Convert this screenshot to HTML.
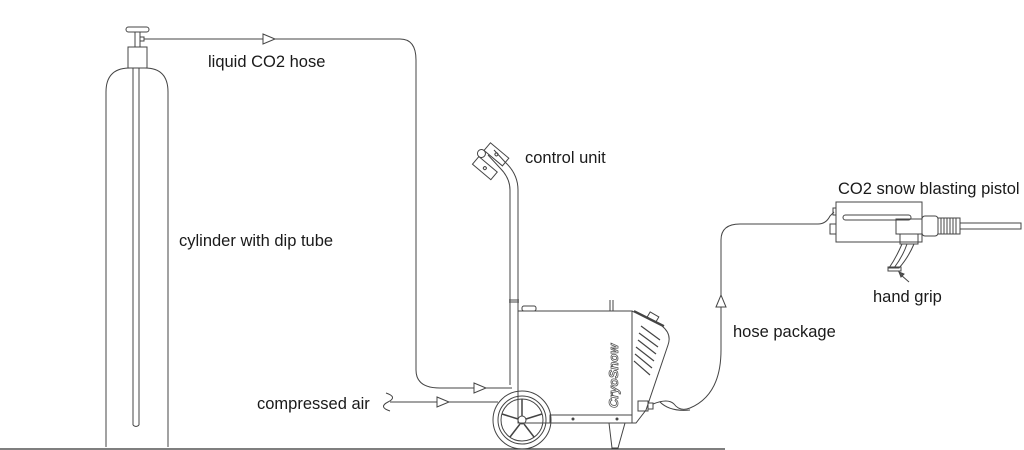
<!DOCTYPE html>
<html><head><meta charset="utf-8"><style>
html,body{margin:0;padding:0;background:#fff;width:1024px;height:450px;overflow:hidden}
svg text{font-family:"Liberation Sans",sans-serif;font-size:16.5px;fill:#1a1a1a}
</style></head><body>
<svg width="1024" height="450" viewBox="0 0 1024 450" xmlns="http://www.w3.org/2000/svg" fill="none" stroke="#444" stroke-width="1">
<line x1="0" y1="449" x2="725" y2="449" stroke="#333" stroke-width="1.2"/>
<path d="M106 447 L106 92 Q106 68 130 68 L145 68 Q168 68 168 92 L168 447"/>
<rect x="128" y="47" width="19" height="21"/>
<line x1="135" y1="32" x2="135" y2="47"/><line x1="140" y1="32" x2="140" y2="47"/>
<rect x="126" y="27" width="23" height="5" rx="2.5"/>
<rect x="140" y="37" width="4" height="4"/>
<line x1="133" y1="68" x2="133" y2="425"/><line x1="139" y1="68" x2="139" y2="425"/>
<path d="M133 425 Q136 428 139 425"/>
<path d="M144 39 L400 39 Q416 39 416 60 L416 370 Q416 388 440 388 L512 388"/>
<path d="M263 34 L275 39 L263 44 Z" fill="#fff"/>
<path d="M474 383 L486 388 L474 393 Z" fill="#fff"/>
<path d="M386 393 Q398 397 388 402 Q378 407 390 411"/>
<line x1="390" y1="402" x2="498" y2="402"/>
<path d="M437 397 L449 402 L437 407 Z" fill="#fff"/>
<path d="M510 385 L510 190 Q510 178 500 168 L488 155"/>
<path d="M518 385 L518 190 Q518 174 505 162 L494 150"/>
<line x1="509" y1="300" x2="519" y2="300"/><line x1="509" y1="302" x2="519" y2="302"/>
<g transform="rotate(40 490 162)">
<rect x="478" y="147" width="24" height="10"/>
<rect x="478" y="165" width="24" height="10"/>
<circle cx="490" cy="152" r="1.5"/><circle cx="490" cy="170" r="1.5"/>
<rect x="474" y="157" width="8" height="8" rx="4"/>
</g>
<rect x="518" y="311" width="114" height="112"/>
<rect x="522" y="306" width="14" height="5" rx="2"/>
<line x1="610" y1="300" x2="610" y2="311"/><line x1="613" y1="300" x2="613" y2="311"/>
<path d="M632 311 L662 326 Q672 334 668 345 L646 410 L636 423 L632 423"/>
<line x1="634" y1="311" x2="664" y2="326" stroke-width="2"/>
<rect x="648" y="314" width="10" height="6" transform="rotate(30 653 317)"/>
<g stroke-width="1.2">
<line x1="641" y1="326" x2="660" y2="340"/><line x1="639" y1="333" x2="658" y2="347"/>
<line x1="638" y1="340" x2="656" y2="354"/><line x1="636" y1="347" x2="654" y2="361"/>
<line x1="635" y1="354" x2="652" y2="368"/><line x1="634" y1="361" x2="650" y2="375"/>
</g>
<text x="0" y="0" transform="translate(618 408) rotate(-90)" style="font-size:13px;font-style:italic;font-weight:bold;fill:#fff;stroke:#555;stroke-width:0.8">CryoSnow</text>
<rect x="550" y="415" width="82" height="8"/>
<circle cx="573" cy="419" r="1" fill="#555"/><circle cx="617" cy="419" r="1" fill="#555"/>
<path d="M609 423 L612 448 L618 448 L625 423"/>
<rect x="638" y="401" width="10" height="10"/><rect x="648" y="403" width="5" height="6"/>
<circle cx="522" cy="420" r="29"/>
<circle cx="522" cy="420" r="24"/>
<circle cx="522" cy="420" r="21"/>
<circle cx="522" cy="420" r="4"/>
<g stroke-width="1.5">
<line x1="522" y1="416" x2="522" y2="399"/><line x1="526" y1="419" x2="542" y2="414"/>
<line x1="524" y1="424" x2="534" y2="437"/><line x1="520" y1="424" x2="510" y2="437"/>
<line x1="518" y1="419" x2="502" y2="414"/>
</g>
<path d="M653 404 Q668 398 674 404 Q680 412 690 408 Q721 395 721 350 L721 240 Q721 224 740 224 L818 224 Q826 224 830 216 L834 212"/>
<path d="M660 402 Q670 412 690 410"/>
<path d="M716 307 L721 295 L726 307 Z" fill="#fff"/>
<rect x="836" y="202" width="86" height="40"/>
<rect x="833" y="208" width="3" height="7"/><rect x="830" y="224" width="6" height="10"/>
<rect x="843" y="215" width="68" height="5" rx="2.5"/>
<rect x="896" y="219" width="26" height="15"/>
<rect x="900" y="234" width="18" height="10"/>
<rect x="922" y="216" width="16" height="20" rx="3"/>
<g><line x1="941" y1="218" x2="941" y2="234"/><line x1="944" y1="218" x2="944" y2="234"/><line x1="947" y1="218" x2="947" y2="234"/><line x1="950" y1="218" x2="950" y2="234"/><line x1="953" y1="218" x2="953" y2="234"/><line x1="956" y1="218" x2="956" y2="234"/></g>
<rect x="938" y="218" width="22" height="16"/>
<rect x="960" y="223" width="61" height="6"/>
<path d="M902 244 Q896 258 889 268 L899 268 Q908 258 914 244"/>
<path d="M907 244 Q903 256 894 268"/>
<rect x="888" y="267" width="13" height="4"/>
<line x1="909" y1="282" x2="901" y2="275"/><path d="M899 272 L904 274 L901 277 Z" fill="#555"/>
<g stroke="none">
<text x="208" y="67">liquid CO2 hose</text>
<text x="525" y="163">control unit</text>
<text x="179" y="246">cylinder with dip tube</text>
<text x="257" y="409">compressed air</text>
<text x="733" y="337">hose package</text>
<text x="838" y="194">CO2 snow blasting pistol</text>
<text x="873" y="302">hand grip</text>
</g>
</svg>
</body></html>
